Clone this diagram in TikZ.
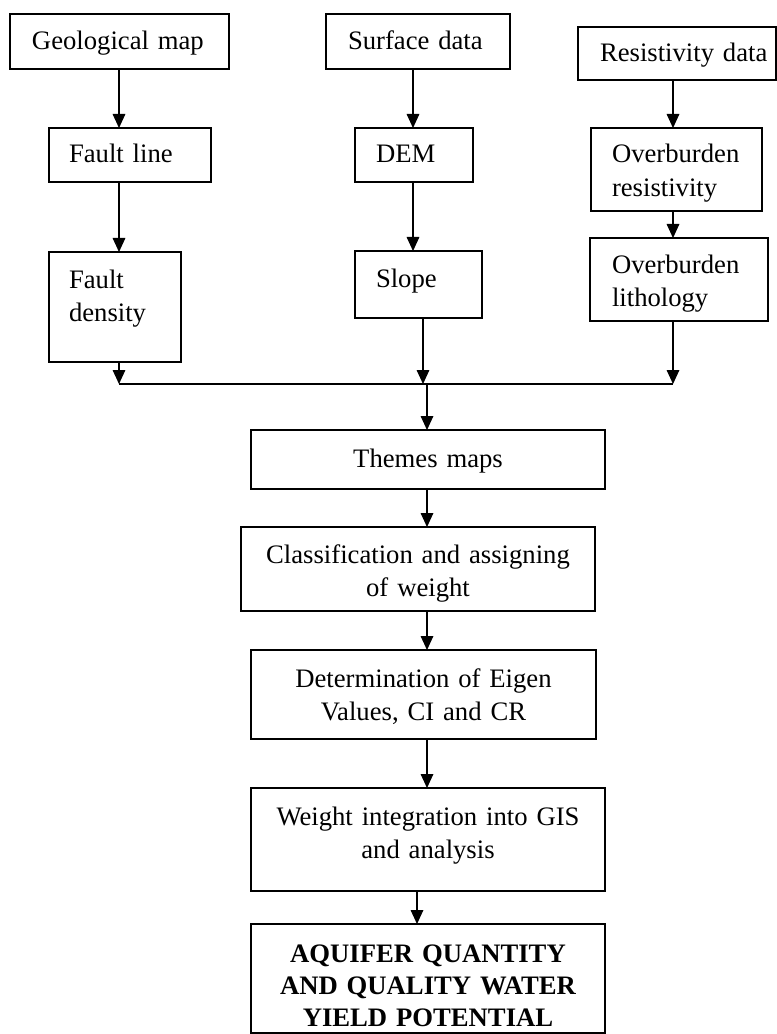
\documentclass[tikz,border=0pt]{standalone}
\usepackage{fontspec}
\setmainfont{Liberation Serif}
\usepackage{tikz}
\usetikzlibrary{arrows.meta}

% left indent of the text inside a box
\newcommand{\lpad}[2]{\leftskip=#1\relax #2\par}

\begin{document}
\begin{tikzpicture}[x=0.75pt,y=-0.75pt]
  \tikzset{block/.style = {draw,line width=0.8pt,inner ysep=0pt,outer sep=0pt,anchor=north west,font=\fontsize{20}{25}\selectfont}}
  \tikzset{lblock/.style = {block,inner xsep=0pt,align=left}}
  \tikzset{cblock/.style = {block,inner xsep=5pt,align=center}}
  \tikzset{arrow/.style = {line width=0.8pt,-{Triangle[length=10.5pt,width=9.5pt]}}}

  \useasboundingbox (0,0) rectangle (777,1034);

  % first column
  \node[lblock,text width=164.25pt,text height=27pt,text depth=14.25pt] (geo) at (10,14) {\lpad{16.5pt}{Geological map}};
  \node[lblock,text width=121.5pt,text height=26.25pt,text depth=14.25pt] (fline) at (49,128) {\lpad{15pt}{Fault line}};
  \node[lblock,text width=99pt,text height=27pt,text depth=55.5pt] (fdens) at (49,252) {\lpad{15pt}{Fault\\density}};

  % second column
  \node[lblock,text width=138pt,text height=27pt,text depth=14.25pt] (surf) at (326,14) {\lpad{16.5pt}{Surface data}};
  \node[lblock,text width=88.5pt,text height=26.25pt,text depth=14.25pt] (dem) at (355,128) {\lpad{15.75pt}{DEM}};
  \node[lblock,text width=95.25pt,text height=27pt,text depth=23.25pt] (slope) at (355,251) {\lpad{15.75pt}{Slope}};

  % third column
  \node[lblock,text width=148.5pt,text height=26.25pt,text depth=13.5pt] (resist) at (578,27) {\lpad{16.5pt}{Resistivity data}};
  \node[lblock,text width=128.25pt,text height=26.25pt,text depth=36pt] (oresist) at (591,128) {\lpad{15.75pt}{Overburden\\resistivity}};
  \node[lblock,text width=133.5pt,text height=26.25pt,text depth=36pt] (olith) at (590,238) {\lpad{16.5pt}{Overburden\\lithology}};

  % main chain
  \node[cblock,text width=255.5pt,text height=27.75pt,text depth=16.5pt] (themes) at (251,430) {Themes maps};
  \node[cblock,text width=255.5pt,text height=27pt,text depth=36pt] (classif) at (241,527) {Classification and assigning\\of weight};
  \node[cblock,text width=248.75pt,text height=27.75pt,text depth=39pt] (determ) at (251,650) {Determination of Eigen\\Values, CI and CR};
  \node[cblock,text width=255.5pt,text height=27.75pt,text depth=49.5pt] (weight) at (251,788) {Weight integration into GIS\\and analysis};
  \node[cblock,text width=255.5pt,text height=28.5pt,text depth=53.25pt,font=\fontsize{20}{24}\selectfont\bfseries] (aquifer) at (251,924) {AQUIFER QUANTITY\\AND QUALITY WATER\\YIELD POTENTIAL};

  \coordinate (c1) at (119,0);
  \coordinate (c2) at (413,0);
  \coordinate (c2b) at (423,0);
  \coordinate (c3) at (673,0);
  \coordinate (cm) at (427,0);
  \coordinate (cw) at (417,0);
  \coordinate (bus) at (427,384);

  \foreach \from/\to/\col in {geo/fline/c1, fline/fdens/c1, surf/dem/c2, dem/slope/c2, resist/oresist/c3, oresist/olith/c3, themes/classif/cm, classif/determ/cm, determ/weight/cm, weight/aquifer/cw}
    \path[arrow] (\from.south -| \col) edge (\to.north -| \col);

  \foreach \from/\col in {fdens/c1, slope/c2b, olith/c3}
    \path[arrow] (\from.south -| \col) edge (bus -| \col);
  \draw[line width=0.8pt] (bus -| c1) -- (bus -| c3);
  \path[arrow] (bus) edge (themes.north -| bus);
\end{tikzpicture}
\end{document}
